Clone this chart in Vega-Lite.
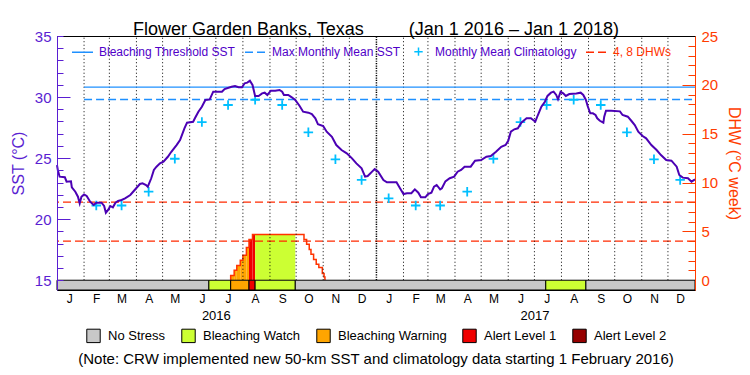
{
"$schema": "https://vega.github.io/schema/vega-lite/v6.json",
"width": 638, "height": 254,
"autosize": {"type": "none"},
"padding": {"left": 57, "top": 36, "right": 55, "bottom": 85},
"background": "white",
"config": {"font": "Liberation Sans", "view": {"stroke": "black", "strokeWidth": 1},
  "axis": {"labelOverlap": false, "labelFlush": false, "tickOpacity": 1, "ticks": true},
  "axisY": {"ticks": true, "tickOpacity": 1},
  "axisLeft": {"ticks": true, "tickOpacity": 1},
  "axisRight": {"ticks": true, "tickOpacity": 1}},
"title": {"text": "Flower Garden Banks, Texas\u00a0\u00a0\u00a0\u00a0\u00a0\u00a0\u00a0\u00a0\u00a0(Jan 1 2016 \u2013 Jan 1 2018)", "fontSize": 18, "fontWeight": "normal", "color": "black", "anchor": "middle", "frame": "group", "offset": -10},
"datasets": {
"sst": [
{"date":"2016-01-01","sst":24.43},{"date":"2016-01-02","sst":24.0},{"date":"2016-01-04","sst":23.48},{"date":"2016-01-10","sst":23.43},{"date":"2016-01-12","sst":23.07},{"date":"2016-01-17","sst":23.1},{"date":"2016-01-18","sst":22.6},{"date":"2016-01-22","sst":22.25},{"date":"2016-01-25","sst":21.84},{"date":"2016-01-27","sst":21.3},{"date":"2016-01-29","sst":21.84},
{"date":"2016-02-01","sst":22.03},{"date":"2016-02-04","sst":21.9},{"date":"2016-02-08","sst":21.43},{"date":"2016-02-12","sst":21.16},{"date":"2016-02-15","sst":21.35},{"date":"2016-02-21","sst":21.35},{"date":"2016-02-24","sst":21.08},{"date":"2016-02-26","sst":20.53},{"date":"2016-02-29","sst":20.8},
{"date":"2016-03-02","sst":21.08},{"date":"2016-03-05","sst":20.97},{"date":"2016-03-08","sst":21.35},{"date":"2016-03-11","sst":21.49},{"date":"2016-03-15","sst":21.57},{"date":"2016-03-19","sst":21.7},{"date":"2016-03-25","sst":21.98},{"date":"2016-03-30","sst":22.39},
{"date":"2016-04-05","sst":22.88},{"date":"2016-04-08","sst":22.93},{"date":"2016-04-12","sst":22.8},{"date":"2016-04-14","sst":22.66},{"date":"2016-04-18","sst":23.35},{"date":"2016-04-21","sst":24.03},{"date":"2016-04-24","sst":24.3},{"date":"2016-04-28","sst":24.57},
{"date":"2016-05-02","sst":24.71},{"date":"2016-05-07","sst":25.11},{"date":"2016-05-11","sst":25.52},{"date":"2016-05-17","sst":26.07},{"date":"2016-05-21","sst":26.48},{"date":"2016-05-26","sst":27.44},{"date":"2016-05-29","sst":27.9},
{"date":"2016-06-05","sst":27.98},{"date":"2016-06-07","sst":28.26},{"date":"2016-06-11","sst":28.8},{"date":"2016-06-15","sst":29.21},{"date":"2016-06-19","sst":29.76},{"date":"2016-06-24","sst":29.81},{"date":"2016-06-28","sst":30.44},
{"date":"2016-07-08","sst":30.44},{"date":"2016-07-11","sst":30.66},{"date":"2016-07-19","sst":30.85},{"date":"2016-07-23","sst":30.9},{"date":"2016-07-27","sst":30.8},{"date":"2016-07-31","sst":30.8},
{"date":"2016-08-03","sst":31.13},{"date":"2016-08-06","sst":31.18},{"date":"2016-08-09","sst":31.34},{"date":"2016-08-12","sst":30.99},{"date":"2016-08-15","sst":30.09},{"date":"2016-08-19","sst":30.09},{"date":"2016-08-23","sst":30.3},{"date":"2016-08-26","sst":30.36},{"date":"2016-08-29","sst":30.17},
{"date":"2016-09-02","sst":30.52},{"date":"2016-09-07","sst":30.52},{"date":"2016-09-12","sst":30.58},{"date":"2016-09-15","sst":30.44},{"date":"2016-09-17","sst":30.17},{"date":"2016-09-22","sst":30.17},{"date":"2016-09-26","sst":29.98},{"date":"2016-09-30","sst":29.76},
{"date":"2016-10-05","sst":29.27},{"date":"2016-10-09","sst":28.8},{"date":"2016-10-15","sst":28.72},{"date":"2016-10-19","sst":28.61},{"date":"2016-10-23","sst":28.26},{"date":"2016-10-26","sst":27.77},
{"date":"2016-11-01","sst":27.63},{"date":"2016-11-05","sst":27.16},{"date":"2016-11-11","sst":26.75},{"date":"2016-11-16","sst":26.07},{"date":"2016-11-22","sst":25.66},{"date":"2016-11-28","sst":25.39},
{"date":"2016-12-04","sst":24.98},{"date":"2016-12-09","sst":24.57},{"date":"2016-12-15","sst":24.16},{"date":"2016-12-19","sst":23.48},{"date":"2016-12-22","sst":23.53},{"date":"2016-12-27","sst":23.89},{"date":"2016-12-30","sst":24.11},
{"date":"2017-01-03","sst":23.89},{"date":"2017-01-09","sst":23.21},{"date":"2017-01-13","sst":23.02},{"date":"2017-01-24","sst":23.02},{"date":"2017-01-28","sst":22.53},
{"date":"2017-02-01","sst":22.06},{"date":"2017-02-05","sst":22.12},{"date":"2017-02-10","sst":22.12},{"date":"2017-02-14","sst":22.44},{"date":"2017-02-18","sst":22.17},{"date":"2017-02-21","sst":21.79},{"date":"2017-02-26","sst":21.79},
{"date":"2017-03-01","sst":22.06},{"date":"2017-03-05","sst":22.17},{"date":"2017-03-08","sst":22.66},{"date":"2017-03-11","sst":22.8},{"date":"2017-03-15","sst":22.44},{"date":"2017-03-17","sst":22.53},{"date":"2017-03-21","sst":23.1},{"date":"2017-03-26","sst":23.35},{"date":"2017-03-31","sst":23.48},
{"date":"2017-04-04","sst":23.89},{"date":"2017-04-08","sst":24.03},{"date":"2017-04-12","sst":24.3},{"date":"2017-04-19","sst":24.3},{"date":"2017-04-24","sst":24.79},
{"date":"2017-05-01","sst":24.84},{"date":"2017-05-07","sst":25.11},{"date":"2017-05-12","sst":25.17},{"date":"2017-05-18","sst":25.52},{"date":"2017-05-24","sst":25.93},{"date":"2017-05-29","sst":26.07},
{"date":"2017-06-01","sst":26.42},{"date":"2017-06-04","sst":27.16},{"date":"2017-06-08","sst":27.36},{"date":"2017-06-12","sst":27.44},{"date":"2017-06-16","sst":27.9},{"date":"2017-06-22","sst":28.26},{"date":"2017-06-27","sst":28.26},
{"date":"2017-07-02","sst":27.98},{"date":"2017-07-05","sst":28.53},{"date":"2017-07-09","sst":29.21},{"date":"2017-07-13","sst":29.62},{"date":"2017-07-16","sst":30.09},{"date":"2017-07-20","sst":30.36},{"date":"2017-07-23","sst":30.44},{"date":"2017-07-26","sst":30.17},{"date":"2017-07-28","sst":29.82},{"date":"2017-07-31","sst":30.44},
{"date":"2017-08-03","sst":30.3},{"date":"2017-08-06","sst":30.09},{"date":"2017-08-10","sst":30.25},{"date":"2017-08-18","sst":30.3},{"date":"2017-08-23","sst":30.36},{"date":"2017-08-26","sst":30.17},{"date":"2017-08-29","sst":29.76},{"date":"2017-08-31","sst":29.27},
{"date":"2017-09-03","sst":28.67},{"date":"2017-09-06","sst":28.67},{"date":"2017-09-09","sst":28.53},{"date":"2017-09-11","sst":28.26},{"date":"2017-09-14","sst":28.06},{"date":"2017-09-18","sst":27.9},{"date":"2017-09-19","sst":28.39},{"date":"2017-09-21","sst":28.88},{"date":"2017-09-27","sst":28.88},
{"date":"2017-10-07","sst":28.83},{"date":"2017-10-10","sst":28.53},{"date":"2017-10-16","sst":28.39},{"date":"2017-10-20","sst":28.06},{"date":"2017-10-24","sst":27.71},{"date":"2017-10-28","sst":27.16},
{"date":"2017-11-02","sst":26.81},{"date":"2017-11-06","sst":26.62},{"date":"2017-11-12","sst":26.07},{"date":"2017-11-18","sst":25.66},{"date":"2017-11-23","sst":25.25},{"date":"2017-11-29","sst":24.84},
{"date":"2017-12-05","sst":24.79},{"date":"2017-12-11","sst":24.3},{"date":"2017-12-14","sst":23.62},{"date":"2017-12-18","sst":23.4},{"date":"2017-12-24","sst":23.35},{"date":"2017-12-28","sst":23.07},{"date":"2018-01-01","sst":23.26}
],
"clim": [
{"date":"2016-02-15","sst":21.12,"series":"Monthly Mean Climatology"},{"date":"2016-03-15","sst":21.12,"series":"Monthly Mean Climatology"},{"date":"2016-04-15","sst":22.25,"series":"Monthly Mean Climatology"},{"date":"2016-05-15","sst":24.95,"series":"Monthly Mean Climatology"},{"date":"2016-06-15","sst":27.95,"series":"Monthly Mean Climatology"},{"date":"2016-07-15","sst":29.35,"series":"Monthly Mean Climatology"},{"date":"2016-08-15","sst":29.78,"series":"Monthly Mean Climatology"},{"date":"2016-09-15","sst":29.35,"series":"Monthly Mean Climatology"},{"date":"2016-10-15","sst":27.11,"series":"Monthly Mean Climatology"},{"date":"2016-11-15","sst":24.9,"series":"Monthly Mean Climatology"},{"date":"2016-12-15","sst":23.21,"series":"Monthly Mean Climatology"},
{"date":"2017-01-15","sst":21.71,"series":"Monthly Mean Climatology"},{"date":"2017-02-15","sst":21.12,"series":"Monthly Mean Climatology"},{"date":"2017-03-15","sst":21.12,"series":"Monthly Mean Climatology"},{"date":"2017-04-15","sst":22.25,"series":"Monthly Mean Climatology"},{"date":"2017-05-15","sst":24.95,"series":"Monthly Mean Climatology"},{"date":"2017-06-15","sst":27.95,"series":"Monthly Mean Climatology"},{"date":"2017-07-15","sst":29.35,"series":"Monthly Mean Climatology"},{"date":"2017-08-15","sst":29.78,"series":"Monthly Mean Climatology"},{"date":"2017-09-15","sst":29.35,"series":"Monthly Mean Climatology"},{"date":"2017-10-15","sst":27.11,"series":"Monthly Mean Climatology"},{"date":"2017-11-15","sst":24.9,"series":"Monthly Mean Climatology"},{"date":"2017-12-15","sst":23.21,"series":"Monthly Mean Climatology"}
],
"thresholds": [
{"date":"2016-02-01","end":"2018-01-01","sst":30.82,"series":"Bleaching Threshold SST"},
{"date":"2016-02-01","end":"2018-01-01","sst":29.8,"series":"Max Monthly Mean SST"}
],
"dhwlines": [
{"dhw":4,"series":"4, 8 DHWs"},{"dhw":8,"series":"4, 8 DHWs"}
],
"status": [
{"date":"2016-01-01","end":"2016-06-23","status":"No Stress"},
{"date":"2016-06-23","end":"2016-07-18","status":"Bleaching Watch"},
{"date":"2016-07-18","end":"2016-08-08","status":"Bleaching Warning"},
{"date":"2016-08-08","end":"2016-08-15","status":"Alert Level 1"},
{"date":"2016-08-15","end":"2016-09-30","status":"Bleaching Watch"},
{"date":"2016-09-30","end":"2017-07-14","status":"No Stress"},
{"date":"2017-07-14","end":"2017-08-29","status":"Bleaching Watch"},
{"date":"2017-08-29","end":"2018-01-01","status":"No Stress"}
],
"dhwfill": [
{"date":"2016-07-18","end":"2016-07-22","dhw":0.48,"status":"Bleaching Warning"},
{"date":"2016-07-22","end":"2016-07-25","dhw":1.02,"status":"Bleaching Warning"},
{"date":"2016-07-25","end":"2016-07-29","dhw":1.5,"status":"Bleaching Warning"},
{"date":"2016-07-29","end":"2016-08-01","dhw":2.05,"status":"Bleaching Warning"},
{"date":"2016-08-01","end":"2016-08-05","dhw":2.56,"status":"Bleaching Warning"},
{"date":"2016-08-05","end":"2016-08-08","dhw":3.35,"status":"Bleaching Warning"},
{"date":"2016-08-08","end":"2016-08-12","dhw":4.17,"status":"Alert Level 1"},
{"date":"2016-08-12","end":"2016-08-15","dhw":4.68,"status":"Alert Level 1"},
{"date":"2016-08-15","end":"2016-09-30","dhw":4.68,"status":"Bleaching Watch"}
],
"dhw": [
{"i":0,"date":"2016-07-18","dhw":0},{"i":1,"date":"2016-07-18","dhw":0.48},{"i":2,"date":"2016-07-22","dhw":1.02},{"i":3,"date":"2016-07-25","dhw":1.5},{"i":4,"date":"2016-07-29","dhw":2.05},{"i":5,"date":"2016-08-01","dhw":2.56},{"i":6,"date":"2016-08-05","dhw":3.35},{"i":7,"date":"2016-08-08","dhw":4.17},{"i":8,"date":"2016-08-12","dhw":4.68},{"i":9,"date":"2016-10-10","dhw":4.17},{"i":10,"date":"2016-10-13","dhw":3.69},{"i":11,"date":"2016-10-16","dhw":3.14},{"i":12,"date":"2016-10-18","dhw":2.66},{"i":13,"date":"2016-10-21","dhw":2.12},{"i":14,"date":"2016-10-24","dhw":1.64},{"i":15,"date":"2016-10-27","dhw":1.3},{"i":16,"date":"2016-10-31","dhw":0.68},{"i":17,"date":"2016-11-02","dhw":0.34},{"i":18,"date":"2016-11-03","dhw":0}
],
"grid": [
{"date":"2016-02-01"},{"date":"2016-03-01"},{"date":"2016-04-01"},{"date":"2016-05-01"},{"date":"2016-06-01"},{"date":"2016-07-01"},{"date":"2016-08-01"},{"date":"2016-09-01"},{"date":"2016-10-01"},{"date":"2016-11-01"},{"date":"2016-12-01"},
{"date":"2017-02-01"},{"date":"2017-03-01"},{"date":"2017-04-01"},{"date":"2017-05-01"},{"date":"2017-06-01"},{"date":"2017-07-01"},{"date":"2017-08-01"},{"date":"2017-09-01"},{"date":"2017-10-01"},{"date":"2017-11-01"},{"date":"2017-12-01"}
],
"yearline": [{"date":"2017-01-01"}]
},
"layer": [
{"layer": [
 {"data": {"name": "dhwfill"},
  "mark": {"type": "rect"},
  "encoding": {
   "x": {"field": "date", "type": "temporal",
     "scale": {"type": "utc", "domain": [{"year":2016,"month":1,"date":1,"utc":true},{"year":2018,"month":1,"date":1,"utc":true}]},
     "axis": {"orient": "bottom", "title": null, "values": [{"year":2016,"month":7,"date":1,"utc":true},{"year":2017,"month":7,"date":1,"utc":true}], "tickCount": 100, "labelExpr": "utcFormat(datum.value, '%Y')", "domain": false, "ticks": false, "grid": false, "labelPadding": 19, "labelFontSize": 13, "labelColor": "black", "labelOverlap": false, "labelFlush": false}},
   "x2": {"field": "end"},
   "y": {"field": "dhw", "type": "quantitative",
     "scale": {"domain": [-1, 25], "nice": false, "zero": false},
     "axis": {"orient": "right", "title": "DHW (°C week)", "values": [0,5,10,15,20,25], "tickCount": 100, "labelExpr": "format(datum.value, 'd')", "labelColor": "#FF3C00", "labelFontSize": 15, "labelPadding": 6, "labelOverlap": false, "labelFlush": false, "domainColor": "#FF3C00", "ticks": false, "grid": false, "titleColor": "#FF3C00", "titleFontSize": 16, "titleFontWeight": "normal", "titlePadding": 8, "zindex": 1}},
   "y2": {"datum": 0},
   "fill": {"field": "status", "type": "nominal",
     "scale": {"domain": ["No Stress","Bleaching Watch","Bleaching Warning","Alert Level 1","Alert Level 2"], "range": ["#C8C8C8","#CCFF33","#FFA500","#F00000","#960000"]}}
  }},
 {"data": {"name": "dhw"},
  "mark": {"type": "line", "interpolate": "step-after", "stroke": "#FF3300", "strokeWidth": 1.5},
  "encoding": {
   "x": {"field": "date", "type": "temporal", "scale": {"type": "utc", "domain": [{"year":2016,"month":1,"date":1,"utc":true},{"year":2018,"month":1,"date":1,"utc":true}]}},
   "y": {"field": "dhw", "type": "quantitative", "scale": {"domain": [-1, 25], "nice": false, "zero": false}},
   "order": {"field": "i", "type": "quantitative"}
  }},
 {"data": {"name": "dhwlines"},
  "mark": {"type": "rule", "strokeWidth": 1.3},
  "encoding": {
   "y": {"field": "dhw", "type": "quantitative", "scale": {"domain": [-1, 25], "nice": false, "zero": false}},
   "stroke": {"field": "series", "type": "nominal",
     "scale": {"domain": ["Bleaching Threshold SST","Max Monthly Mean SST","Monthly Mean Climatology","4, 8 DHWs"], "range": ["#1E90FF","#1E90FF","#00BFFF","#FF2A00"]}},
   "strokeDash": {"field": "series", "type": "nominal", "legend": null,
     "scale": {"domain": ["Bleaching Threshold SST","Max Monthly Mean SST","Monthly Mean Climatology","4, 8 DHWs"], "range": [[1,0],[8,4],[1,0],[8,4]]}}
  }}
]},
{"layer": [
 {"data": {"name": "grid"},
  "mark": {"type": "rule", "color": "black", "strokeWidth": 1, "strokeDash": [1, 2.5]},
  "encoding": {
   "x": {"field": "date", "type": "temporal",
     "scale": {"type": "utc", "domain": [{"year":2016,"month":1,"date":1,"utc":true},{"year":2018,"month":1,"date":1,"utc":true}]},
     "axis": {"orient": "bottom", "title": null,
       "values": [{"year":2016,"month":1,"date":15,"utc":true},{"year":2016,"month":2,"date":15,"utc":true},{"year":2016,"month":3,"date":15,"utc":true},{"year":2016,"month":4,"date":15,"utc":true},{"year":2016,"month":5,"date":15,"utc":true},{"year":2016,"month":6,"date":15,"utc":true},{"year":2016,"month":7,"date":15,"utc":true},{"year":2016,"month":8,"date":15,"utc":true},{"year":2016,"month":9,"date":15,"utc":true},{"year":2016,"month":10,"date":15,"utc":true},{"year":2016,"month":11,"date":15,"utc":true},{"year":2016,"month":12,"date":15,"utc":true},{"year":2017,"month":1,"date":15,"utc":true},{"year":2017,"month":2,"date":15,"utc":true},{"year":2017,"month":3,"date":15,"utc":true},{"year":2017,"month":4,"date":15,"utc":true},{"year":2017,"month":5,"date":15,"utc":true},{"year":2017,"month":6,"date":15,"utc":true},{"year":2017,"month":7,"date":15,"utc":true},{"year":2017,"month":8,"date":15,"utc":true},{"year":2017,"month":9,"date":15,"utc":true},{"year":2017,"month":10,"date":15,"utc":true},{"year":2017,"month":11,"date":15,"utc":true},{"year":2017,"month":12,"date":15,"utc":true}],
       "tickCount": 100, "labelExpr": "substring(utcFormat(datum.value, '%b'), 0, 1)", "domain": false, "ticks": false, "grid": false, "labelPadding": 3, "labelFontSize": 12, "labelColor": "black", "labelOverlap": false, "labelFlush": false}},
   "y": {"datum": 15, "type": "quantitative",
     "scale": {"domain": [14.2, 35], "nice": false, "zero": false},
     "axis": {"orient": "left", "title": "SST (°C)", "values": [15,20,25,30,35], "tickCount": 100, "labelExpr": "format(datum.value, 'd')", "labelColor": "#5A1ED2", "labelFontSize": 15, "labelPadding": 6, "labelOverlap": false, "labelFlush": false, "domainColor": "#5A1ED2", "ticks": false, "grid": false, "titleColor": "#5A1ED2", "titleFontSize": 16, "titleFontWeight": "normal", "titlePadding": 8, "zindex": 1}},
   "y2": {"datum": 35}
  }},
 {"data": {"name": "yearline"},
  "mark": {"type": "rule", "color": "black", "strokeWidth": 1.5, "strokeDash": [1.2, 1.2]},
  "encoding": {
   "x": {"field": "date", "type": "temporal", "scale": {"type": "utc", "domain": [{"year":2016,"month":1,"date":1,"utc":true},{"year":2018,"month":1,"date":1,"utc":true}]}},
   "y": {"datum": 15, "type": "quantitative", "scale": {"domain": [14.2, 35], "nice": false, "zero": false}},
   "y2": {"datum": 35}
  }},
 {"data": {"name": "status"},
  "mark": {"type": "rect", "stroke": "black", "strokeWidth": 1},
  "encoding": {
   "x": {"field": "date", "type": "temporal", "scale": {"type": "utc", "domain": [{"year":2016,"month":1,"date":1,"utc":true},{"year":2018,"month":1,"date":1,"utc":true}]}},
   "x2": {"field": "end"},
   "y": {"datum": 14.2, "type": "quantitative", "scale": {"domain": [14.2, 35], "nice": false, "zero": false}},
   "y2": {"datum": 15},
   "fill": {"field": "status", "type": "nominal",
     "scale": {"domain": ["No Stress","Bleaching Watch","Bleaching Warning","Alert Level 1","Alert Level 2"], "range": ["#C8C8C8","#CCFF33","#FFA500","#F00000","#960000"]},
     "legend": {"orient": "none", "legendX": 21, "legendY": 292, "direction": "horizontal", "padding": 0,
       "title": "(Note: CRW implemented new 50-km SST and climatology data starting 1 February 2016)",
       "titleOrient": "bottom", "titleAnchor": "middle", "titleAlign": "center", "titleFontSize": 15, "titleFontWeight": "normal", "titleColor": "black", "titleLimit": 800, "titlePadding": 7,
       "symbolType": "square", "symbolSize": 180, "symbolStrokeColor": "black", "symbolStrokeWidth": 1, "symbolOpacity": 1,
       "labelFontSize": 13, "labelColor": "black", "labelOffset": 7, "columnPadding": 13, "labelLimit": 300}}
  }},
 {"data": {"name": "thresholds"},
  "mark": {"type": "rule", "strokeWidth": 1.3},
  "encoding": {
   "x": {"field": "date", "type": "temporal", "scale": {"type": "utc", "domain": [{"year":2016,"month":1,"date":1,"utc":true},{"year":2018,"month":1,"date":1,"utc":true}]}},
   "x2": {"field": "end"},
   "y": {"field": "sst", "type": "quantitative", "scale": {"domain": [14.2, 35], "nice": false, "zero": false}},
   "stroke": {"field": "series", "type": "nominal",
     "scale": {"domain": ["Bleaching Threshold SST","Max Monthly Mean SST","Monthly Mean Climatology","4, 8 DHWs"], "range": ["#1E90FF","#1E90FF","#00BFFF","#FF2A00"]},
     "legend": {"orient": "none", "legendX": 14, "legendY": 4, "direction": "horizontal", "padding": 0, "title": null,
       "symbolType": "stroke", "symbolSize": 441, "symbolStrokeWidth": 1.5, "symbolOpacity": 1,
       "labelFontSize": 12, "labelColor": "#5000C8", "labelOffset": 5, "columnPadding": 6, "labelLimit": 300,
       "encode": {
         "symbols": {"update": {
           "shape": {"signal": "datum.value === 'Monthly Mean Climatology' ? 'M-0.4,0H0.4M0,-0.4V0.4' : 'stroke'"},
           "strokeDash": {"signal": "(datum.value === 'Max Monthly Mean SST' || datum.value === '4, 8 DHWs') ? [8,4] : [1,0]"},
           "fill": {"value": "transparent"}}},
         "labels": {"update": {"fill": {"signal": "datum.value === '4, 8 DHWs' ? '#FF3300' : '#5000C8'"}}}}}},
   "strokeDash": {"field": "series", "type": "nominal", "legend": null,
     "scale": {"domain": ["Bleaching Threshold SST","Max Monthly Mean SST","Monthly Mean Climatology","4, 8 DHWs"], "range": [[1,0],[8,4],[1,0],[8,4]]}}
  }},
 {"data": {"name": "clim"},
  "mark": {"type": "point", "shape": "M-1,0H1M0,-1V1", "filled": false, "size": 90, "strokeWidth": 1.8, "opacity": 1},
  "encoding": {
   "x": {"field": "date", "type": "temporal", "scale": {"type": "utc", "domain": [{"year":2016,"month":1,"date":1,"utc":true},{"year":2018,"month":1,"date":1,"utc":true}]}},
   "y": {"field": "sst", "type": "quantitative", "scale": {"domain": [14.2, 35], "nice": false, "zero": false}},
   "stroke": {"field": "series", "type": "nominal",
     "scale": {"domain": ["Bleaching Threshold SST","Max Monthly Mean SST","Monthly Mean Climatology","4, 8 DHWs"], "range": ["#1E90FF","#1E90FF","#00BFFF","#FF2A00"]}}
  }},
 {"data": {"name": "sst"},
  "mark": {"type": "line", "stroke": "#4B00B4", "strokeWidth": 2},
  "encoding": {
   "x": {"field": "date", "type": "temporal", "scale": {"type": "utc", "domain": [{"year":2016,"month":1,"date":1,"utc":true},{"year":2018,"month":1,"date":1,"utc":true}]}},
   "y": {"field": "sst", "type": "quantitative", "scale": {"domain": [14.2, 35], "nice": false, "zero": false}}
  }}
]},
{"data": {"name": "yearline"},
 "mark": {"type": "rule", "opacity": 0},
 "encoding": {
  "y": {"datum": 15, "type": "quantitative", "scale": {"domain": [14.2, 35], "nice": false, "zero": false},
    "axis": {"orient": "left", "offset": -6, "title": null, "labels": false, "domain": false, "grid": false, "ticks": true, "tickSize": 6, "tickWidth": 1, "tickOpacity": 1, "tickColor": "#5A1ED2", "values": [15,16,17,18,19,20,21,22,23,24,25,26,27,28,29,30,31,32,33,34,35], "tickCount": 100, "zindex": 2}}
 }},
{"data": {"name": "yearline"},
 "mark": {"type": "rule", "opacity": 0},
 "encoding": {
  "y": {"datum": 15, "type": "quantitative", "scale": {"domain": [14.2, 35], "nice": false, "zero": false},
    "axis": {"orient": "left", "offset": -13, "title": null, "labels": false, "domain": false, "grid": false, "ticks": true, "tickSize": 13, "tickWidth": 1, "tickOpacity": 1, "tickColor": "#5A1ED2", "values": [20,25,30], "tickCount": 100, "zindex": 2}}
 }},
{"data": {"name": "yearline"},
 "mark": {"type": "rule", "opacity": 0},
 "encoding": {
  "y": {"datum": 0, "type": "quantitative", "scale": {"domain": [-1, 25], "nice": false, "zero": false},
    "axis": {"orient": "right", "offset": -7, "title": null, "labels": false, "domain": false, "grid": false, "ticks": true, "tickSize": 7, "tickWidth": 1, "tickOpacity": 1, "tickColor": "#FF3C00", "values": [1,2,3,4,5,6,7,8,9,10,11,12,13,14,15,16,17,18,19,20,21,22,23,24], "tickCount": 100, "zindex": 2}}
 }},
{"data": {"name": "yearline"},
 "mark": {"type": "rule", "opacity": 0},
 "encoding": {
  "y": {"datum": 0, "type": "quantitative", "scale": {"domain": [-1, 25], "nice": false, "zero": false},
    "axis": {"orient": "right", "offset": -13, "title": null, "labels": false, "domain": false, "grid": false, "ticks": true, "tickSize": 13, "tickWidth": 1, "tickOpacity": 1, "tickColor": "#FF3C00", "values": [5,10,15,20], "tickCount": 100, "zindex": 2}}
 }}
],
"resolve": {"scale": {"y": "independent"}, "axis": {"x": "independent", "y": "independent"}}
}
